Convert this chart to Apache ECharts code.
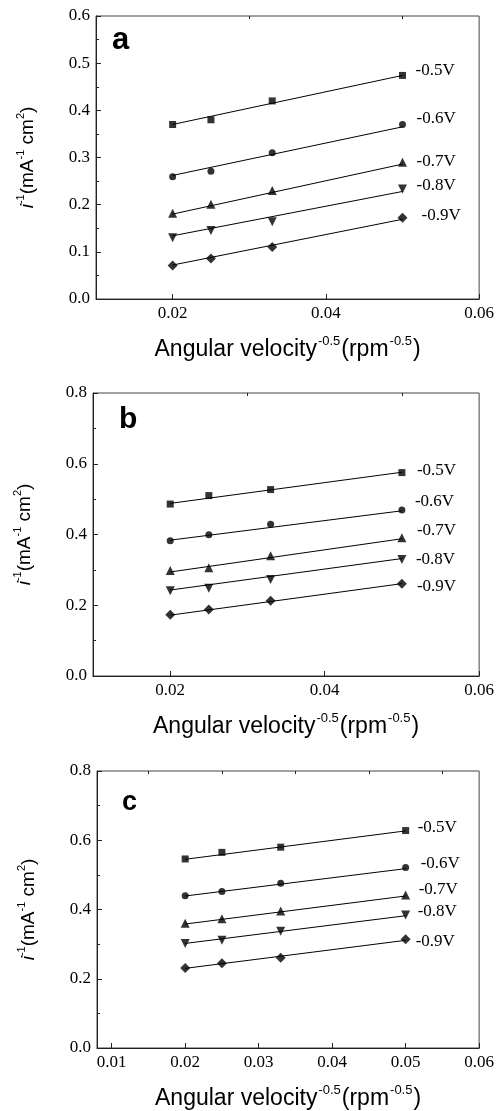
<!DOCTYPE html>
<html><head><meta charset="utf-8">
<script src="https://cdn.jsdelivr.net/npm/echarts@6/dist/echarts.min.js"></script>
<style>html,body{margin:0;padding:0;background:#fff}#c{width:497px;height:1111px}</style>
</head><body><div id="c"></div>
<script>
// shared
const xValues = [0.02, 0.025, 0.033, 0.05];
const fitX = [0.02, 0.05];
const potentials = ['-0.5V', '-0.6V', '-0.7V', '-0.8V', '-0.9V'];
const panelLetters = ['a', 'b', 'c'];

// panel a measured points (i^-1)
const a05 = [0.370, 0.380, 0.420, 0.474];
const a06 = [0.259, 0.271, 0.310, 0.370];
const a07 = [0.182, 0.201, 0.230, 0.290];
const a08 = [0.130, 0.145, 0.164, 0.233];
const a09 = [0.071, 0.086, 0.110, 0.172];
// panel a fit line ends (at 0.02 and 0.05)
const aFit05 = [0.370, 0.474];
const aFit06 = [0.262, 0.365];
const aFit07 = [0.180, 0.286];
const aFit08 = [0.134, 0.228];
const aFit09 = [0.072, 0.169];

// panel b
const b05 = [0.486, 0.510, 0.527, 0.575];
const b06 = [0.382, 0.399, 0.429, 0.469];
const b07 = [0.298, 0.306, 0.340, 0.391];
const b08 = [0.241, 0.248, 0.273, 0.329];
const b09 = [0.173, 0.188, 0.213, 0.261];
const bFit05 = [0.488, 0.576];
const bFit06 = [0.384, 0.467];
const bFit07 = [0.294, 0.388];
const bFit08 = [0.243, 0.332];
const bFit09 = [0.172, 0.261];

// panel c
const c05 = [0.546, 0.565, 0.580, 0.628];
const c06 = [0.440, 0.452, 0.476, 0.521];
const c07 = [0.360, 0.373, 0.396, 0.442];
const c08 = [0.302, 0.311, 0.337, 0.384];
const c09 = [0.231, 0.245, 0.261, 0.314];
const cFit05 = [0.545, 0.627];
const cFit06 = [0.439, 0.518];
const cFit07 = [0.358, 0.439];
const cFit08 = [0.302, 0.382];
const cFit09 = [0.230, 0.311];

// axis ticks / labels
const xLabelsAB = [0.02, 0.04, 0.06];
const xMinorAB = [0.01, 0.03, 0.05];
const xLabelsC = [0.01, 0.02, 0.03, 0.04, 0.05, 0.06];
const xMinorC = [0.015, 0.025, 0.035, 0.045, 0.055];

const panels = [
  {pts: [a05, a06, a07, a08, a09], fit: [aFit05, aFit06, aFit07, aFit08, aFit09],
   xMin: 0.01, xMax: 0.06, xLab: xLabelsAB, xMin2: xMinorAB, yMax: 0.6, yInt: 0.1,
   grid: {left: 96, right: 15, top: 16, height: 283},
   lab: [[13, -5], [14, -8], [14, -3], [14, -6], [19, -4]],
   letter: {x: 112, y: 44, size: 31}},
  {pts: [b05, b06, b07, b08, b09], fit: [bFit05, bFit06, bFit07, bFit08, bFit09],
   xMin: 0.01, xMax: 0.06, xLab: xLabelsAB, xMin2: xMinorAB, yMax: 0.8, yInt: 0.2,
   grid: {left: 93, right: 15, top: 393, height: 283},
   lab: [[15, -2], [13, -9], [15, -8], [14, 1], [15, 3]],
   letter: {x: 119, y: 423, size: 30}},
  {pts: [c05, c06, c07, c08, c09], fit: [cFit05, cFit06, cFit07, cFit08, cFit09],
   xMin: 0.008, xMax: 0.06, xLab: xLabelsC, xMin2: xMinorC, yMax: 0.8, yInt: 0.2,
   grid: {left: 97, right: 15, top: 771, height: 281},
   lab: [[12, -3], [15, -5], [13, -6], [12, -4], [10, 1]],
   letter: {x: 122, y: 805, size: 27}}
];

const symbols = [
  {symbol: 'rect', size: 7, rot: 0},
  {symbol: 'circle', size: 7, rot: 0},
  {symbol: 'triangle', size: 9, rot: 0},
  {symbol: 'triangle', size: 9, rot: 180},
  {symbol: 'diamond', size: 10, rot: 0}
];

const AX = '#222';
const serif = '"Liberation Serif", "DejaVu Serif", serif';
const sans = '"Liberation Sans", Arial, sans-serif';

const grids = [], xAxes = [], yAxes = [], series = [], graphics = [];
panels.forEach((p, pi) => {
  grids.push(Object.assign({show: true, borderColor: '#444', borderWidth: 1, backgroundColor: 'transparent'}, p.grid));
  xAxes.push({
    type: 'value', gridIndex: pi, min: p.xMin, max: p.xMax,
    axisLine: {show: true, lineStyle: {color: AX, width: 1}},
    axisTick: {show: true, inside: true, length: 5, lineStyle: {color: AX}, customValues: p.xLab},
    axisLabel: {show: true, customValues: p.xLab, color: '#000', fontFamily: serif, fontSize: 17, margin: 6,
      formatter: v => Number(v).toFixed(2)},
    splitLine: {show: false},
    name: '{t|Angular velocity}{s|-0.5}{t|(rpm}{s|-0.5}{t|)}',
    nameLocation: 'middle', nameGap: 36,
    nameTextStyle: {
      rich: {
        t: {fontFamily: sans, fontSize: 23, color: '#000', lineHeight: 26, verticalAlign: 'bottom'},
        s: {fontFamily: sans, fontSize: 13, color: '#000', lineHeight: 26, verticalAlign: 'top', padding: [0, 1, 0, 1]}
      }
    }
  });
  xAxes.push({
    type: 'value', gridIndex: pi, min: p.xMin, max: p.xMax,
    axisLine: {show: false},
    axisTick: {show: true, inside: true, length: 3, lineStyle: {color: AX}, customValues: p.xMin2},
    axisLabel: {show: false},
    splitLine: {show: false}
  });
  yAxes.push({
    type: 'value', gridIndex: pi, min: 0, max: p.yMax, interval: p.yInt,
    axisLine: {show: true, lineStyle: {color: AX, width: 1}},
    axisTick: {show: true, inside: true, length: 5, lineStyle: {color: AX}},
    minorTick: {show: true, splitNumber: 2, length: 3, lineStyle: {color: AX}},
    axisLabel: {color: '#000', fontFamily: serif, fontSize: 17, margin: 6,
      formatter: v => Number(v).toFixed(1)},
    splitLine: {show: false},
    name: '{i|i}{s|-1}{t|(mA}{s|-1}{t| cm}{s|2}{t|)}',
    nameLocation: 'middle', nameRotate: 90, nameGap: 59,
    nameTextStyle: {
      rich: {
        i: {fontFamily: sans, fontStyle: 'italic', fontSize: 19, color: '#000', lineHeight: 22, verticalAlign: 'bottom'},
        t: {fontFamily: sans, fontSize: 19, color: '#000', lineHeight: 22, verticalAlign: 'bottom'},
        s: {fontFamily: sans, fontSize: 11, color: '#000', lineHeight: 22, verticalAlign: 'top'}
      }
    }
  });
  const xi = pi * 2;
  p.pts.forEach((vals, si) => {
    const sym = symbols[si];
    series.push({
      type: 'scatter', xAxisIndex: xi, yAxisIndex: pi,
      symbol: sym.symbol, symbolSize: sym.size, symbolRotate: sym.rot,
      itemStyle: {color: '#000'}, z: 3,
      data: xValues.map((x, k) => [x, vals[k]])
    });
    series.push({
      type: 'line', xAxisIndex: xi, yAxisIndex: pi,
      showSymbol: false, symbol: 'none', silent: true,
      lineStyle: {color: '#000', width: 1}, z: 2,
      data: fitX.map((x, k) => [x, p.fit[si][k]]),
      endLabel: {show: true, formatter: potentials[si], distance: 0, offset: p.lab[si],
        color: '#000', fontFamily: serif, fontSize: 17, align: 'left', verticalAlign: 'middle'}
    });
  });
  graphics.push({
    type: 'text', left: p.letter.x, top: p.letter.y - p.letter.size * 0.6,
    style: {text: panelLetters[pi], fill: '#000', font: 'bold ' + p.letter.size + 'px ' + sans}
  });
});

const chart = echarts.init(document.getElementById('c'), null, {renderer: 'canvas'});
chart.setOption({
  animation: false,
  backgroundColor: '#fff',
  grid: grids, xAxis: xAxes, yAxis: yAxes, series: series, graphic: graphics
});
</script></body></html>
